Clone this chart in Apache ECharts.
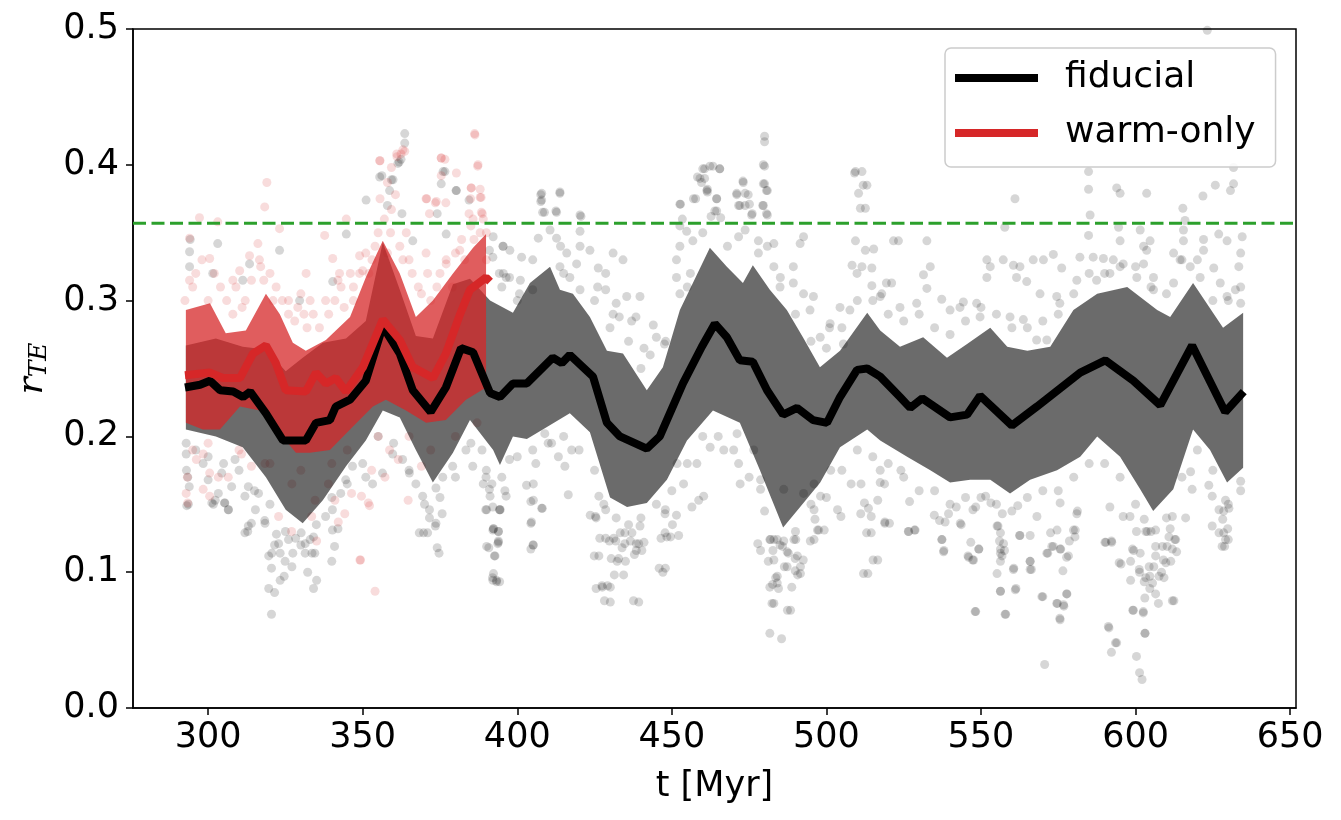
<!DOCTYPE html>
<html>
<head>
<meta charset="UTF-8">
<title>r_TE over time</title>
<script src="https://cdn.jsdelivr.net/npm/echarts@6/dist/echarts.min.js"></script>
<style>
  body { margin: 0; background: #fff; }
  #main { width: 1341px; height: 820px; }
</style>
</head>
<body>
<div id="main"></div>
<script>
// tick values
var xTicks = [300, 350, 400, 450, 500, 550, 600, 650];
var threshold = 0.357;

// running mean, fiducial run [t (Myr), r_TE]
var fidMean = [[292.5,0.236],[297.4,0.238],[300.6,0.241],[303.9,0.234],[308.1,0.233],[311.3,0.229],[313.6,0.233],[318.7,0.217],[324.2,0.197],[328.4,0.197],[331.6,0.197],[334.9,0.210],[339.4,0.212],[341.3,0.222],[345.9,0.227],[351.0,0.241],[356.5,0.281],[362.0,0.261],[366.2,0.234],[372.0,0.218],[376.9,0.236],[381.8,0.265],[385.7,0.262],[391.2,0.232],[394.4,0.229],[398.6,0.239],[403.1,0.239],[411.5,0.258],[414.4,0.254],[417.0,0.260],[424.5,0.244],[429.0,0.210],[433.2,0.200],[441.9,0.191],[446.1,0.200],[453.6,0.239],[459.7,0.266],[463.9,0.283],[467.8,0.273],[472.0,0.256],[476.2,0.255],[480.8,0.234],[486.0,0.216],[490.5,0.221],[495.7,0.212],[500.2,0.210],[504.4,0.229],[509.9,0.249],[513.2,0.250],[517.4,0.244],[523.8,0.229],[527.1,0.221],[531.0,0.228],[540.0,0.214],[545.5,0.216],[549.7,0.230],[560.0,0.208],[568.1,0.222],[582.1,0.247],[590.2,0.256],[599.3,0.241],[608.0,0.223],[618.3,0.267],[629.0,0.218],[635.0,0.233]];
// mean - std and mean + std
var fidLow = [[292.8,0.205],[302.5,0.200],[311.2,0.192],[318.7,0.170],[325.1,0.146],[330.6,0.136],[337.1,0.153],[344.6,0.178],[351.0,0.197],[356.5,0.219],[362.0,0.214],[367.2,0.190],[372.7,0.166],[379.2,0.188],[384.7,0.212],[392.2,0.190],[394.4,0.179],[398.6,0.200],[403.1,0.198],[409.6,0.207],[417.0,0.217],[423.5,0.203],[430.0,0.155],[435.5,0.148],[441.9,0.151],[448.4,0.168],[454.9,0.197],[463.3,0.219],[472.0,0.210],[478.5,0.175],[486.0,0.133],[491.5,0.148],[498.0,0.166],[504.4,0.192],[513.2,0.205],[517.4,0.197],[526.1,0.185],[533.6,0.175],[540.0,0.166],[546.5,0.168],[553.0,0.168],[559.4,0.158],[565.9,0.168],[574.6,0.175],[582.1,0.185],[587.6,0.200],[595.0,0.185],[601.5,0.161],[605.7,0.145],[612.2,0.161],[618.6,0.205],[624.1,0.190],[629.6,0.166],[634.8,0.177]];
var fidHigh = [[292.8,0.267],[302.5,0.272],[311.2,0.266],[318.7,0.264],[325.1,0.248],[330.6,0.258],[337.1,0.269],[344.6,0.272],[351.0,0.285],[356.5,0.343],[362.0,0.308],[367.2,0.274],[372.7,0.272],[379.2,0.312],[384.7,0.316],[391.2,0.300],[398.6,0.291],[404.1,0.313],[410.6,0.325],[413.8,0.308],[418.0,0.305],[423.5,0.288],[429.0,0.263],[434.2,0.261],[441.9,0.234],[447.1,0.251],[452.6,0.293],[462.3,0.339],[467.8,0.325],[473.0,0.313],[476.2,0.326],[481.7,0.308],[487.2,0.293],[492.4,0.273],[497.9,0.251],[504.4,0.263],[513.2,0.291],[517.4,0.278],[523.8,0.266],[531.3,0.273],[539.0,0.258],[545.5,0.268],[553.0,0.280],[558.5,0.266],[565.0,0.263],[572.4,0.266],[579.9,0.293],[587.6,0.305],[597.3,0.310],[607.0,0.293],[611.2,0.288],[618.6,0.313],[628.3,0.280],[634.8,0.291]];

// warm-only run
var warmMean = [[292.5,0.245],[300.6,0.247],[304.8,0.243],[310.3,0.243],[314.5,0.261],[318.7,0.267],[321.9,0.254],[325.1,0.234],[331.6,0.233],[334.9,0.247],[338.1,0.239],[341.3,0.243],[344.6,0.233],[350.1,0.251],[356.5,0.286],[362.0,0.271],[366.2,0.251],[372.7,0.243],[376.9,0.261],[381.5,0.290],[384.7,0.308],[389.9,0.317],[391.2,0.314]];
var warmLow = [[292.8,0.210],[298.3,0.205],[303.8,0.205],[310.3,0.222],[316.7,0.219],[323.2,0.202],[328.4,0.188],[332.9,0.188],[339.4,0.190],[345.9,0.205],[353.3,0.222],[357.5,0.227],[364.0,0.219],[370.5,0.210],[376.9,0.212],[383.4,0.227],[389.9,0.236]];
var warmHigh = [[292.8,0.293],[300.6,0.298],[305.7,0.276],[312.2,0.278],[318.7,0.305],[323.2,0.290],[327.4,0.269],[331.6,0.263],[338.1,0.271],[345.9,0.288],[351.0,0.317],[356.5,0.344],[362.0,0.320],[367.2,0.288],[372.7,0.300],[379.2,0.320],[385.7,0.339],[389.9,0.349]];

// individual snapshots (mostly the ones outside the bands)
var fidDots = [
[293.6,0.150],[301.7,0.150],[305.3,0.151],[306.6,0.146],[315.3,0.146],[312.8,0.130],[314,0.136],[318.3,0.138],[319.6,0.112],[321.5,0.120],[323.3,0.114],[320.5,0.103],[323.3,0.094],[324.6,0.097],[319.6,0.088],[321.5,0.085],[320.5,0.069],[322.1,0.128],[327.4,0.114],[331.4,0.114],[334.5,0.114],[332.2,0.100],[335.1,0.094],[334.1,0.088],[340,0.108],[340.9,0.119],[342,0.132],[328.3,0.125],[333,0.124],[330.1,0.129],
[369.7,0.129],[371,0.129],[373.5,0.134],[374.1,0.118],[374.7,0.114],[375.7,0.143],[371.6,0.140],[390.8,0.118],[392.6,0.112],[392,0.096],[393.3,0.093],[392.3,0.132],[393.9,0.130],[393.9,0.122],[389.8,0.146],[394.3,0.146],[404.4,0.136],[405.1,0.120],[404.4,0.117],[408.1,0.147],[404.4,0.152],
[423.6,0.142],[425.5,0.140],[426.7,0.125],[429.8,0.123],[431.9,0.123],[434.8,0.129],[436.6,0.123],[438.5,0.121],[441,0.122],[438.5,0.116],[437.9,0.113],[430.4,0.110],[432.3,0.108],[424.9,0.112],[431.4,0.098],[425.5,0.088],[427.4,0.090],[429.2,0.090],[428.2,0.079],[437.6,0.079],[445.9,0.103],[447.1,0.100],[446.5,0.125],[447.8,0.129],[449.6,0.126],[451.5,0.142],[447.8,0.143],[450.2,0.135],[439.7,0.134],[434.8,0.121],
[477.8,0.121],[478.7,0.116],[481.7,0.124],[483,0.124],[482.7,0.116],[481.2,0.108],[485.8,0.119],[487.7,0.114],[489.9,0.110],[486.4,0.104],[489.9,0.101],[490.7,0.098],[483.6,0.096],[482.6,0.091],[481.7,0.089],[484.5,0.088],[488.8,0.089],[482.4,0.077],[487.4,0.072],[481.7,0.055],[485.5,0.051],[492.5,0.109],[494.8,0.123],[497.5,0.131],[496.3,0.139],[490.1,0.124],
[512,0.099],[515.1,0.109],[513,0.129],[511.1,0.143],[513.6,0.147],[518.9,0.137],[526.6,0.130],[528.5,0.131],[534.9,0.142],[538.4,0.137],[537.4,0.124],[538,0.116],[545.8,0.112],[547.3,0.109],[546.7,0.122],[549.3,0.117],[548.3,0.071],[555.5,0.134],[556,0.123],[556.3,0.114],[556.3,0.108],[557.6,0.116],[556.3,0.086],[561.3,0.088],[558,0.069],[560.5,0.102],[562.6,0.127],[565.9,0.127],[565.9,0.108],[566.3,0.102],[570,0.082],[570.6,0.032],
[571.6,0.114],[572.9,0.119],[574.6,0.131],[575.8,0.117],[578.3,0.112],[576.5,0.101],[574.7,0.077],[576.8,0.075],[577.8,0.084],[575.5,0.066],[578.6,0.123],[580.5,0.131],
[590.4,0.122],[592.2,0.123],[591.4,0.059],[593.5,0.048],[592.2,0.041],[595.3,0.106],[598.4,0.108],[598.4,0.094],[599.4,0.116],[601.5,0.114],[601.3,0.100],[602.8,0.093],[600.3,0.130],[603.8,0.130],[602.8,0.139],[606.5,0.119],[604.6,0.097],[605.9,0.104],[608.4,0.100],[604.6,0.088],[603,0.081],[607.4,0.077],[612.4,0.079],[599.1,0.072],[602.5,0.070],[603,0.055],[600.3,0.038],[601.3,0.026],[602.1,0.021],[609.2,0.096],[609,0.109],[611.4,0.108],[613.3,0.115],[612.7,0.124],[611.2,0.132],[610.2,0.119],
[627,0.146],[628.2,0.139],[629.8,0.132],[628.8,0.119],[630,0.124],[628.5,0.129],[539.5,0.143],[543.3,0.136],[548.3,0.148],[553.2,0.151],[556.9,0.143],[561.9,0.149],[568.1,0.141],[572.5,0.129],[581.2,0.145],
[363.6,0.423],[363.6,0.416],[362.4,0.404],[361.8,0.402],[359.3,0.389],[356.2,0.392],[358,0.370],[362.7,0.364],[376.6,0.395],[375.4,0.386],[380.3,0.381],[374.1,0.364],[407.6,0.378],[407.6,0.373],[413.8,0.380],[408.8,0.365],[412.5,0.366],[420.6,0.362],
[452.8,0.371],[453.4,0.360],[457.7,0.375],[458.3,0.391],[459.6,0.387],[460.6,0.390],[461.5,0.382],[461.5,0.380],[460.6,0.397],[463.3,0.399],[465.5,0.397],[464.5,0.375],[462.7,0.362],[463.9,0.366],[465.8,0.361],[473,0.388],[471,0.378],[472,0.370],[474.7,0.378],[475.1,0.371],[476,0.364],[480,0.421],[480,0.417],[480,0.399],[480,0.386],[480.9,0.381],[479.4,0.370],[480.6,0.364],[509.1,0.394],[509.4,0.395],[511.9,0.385],[511,0.368],
[294.2,0.345],[303.1,0.342],[294,0.336],[294,0.325],[301.5,0.320],[311.2,0.315],[313.4,0.327],[323.1,0.337],[329.6,0.300],[340.3,0.314],[344.7,0.349],[351.1,0.374],[355.5,0.391],[359.8,0.389],[361.4,0.401],[358.7,0.381],[366.2,0.344],[376,0.395],[380.2,0.381],[377,0.349],[384.4,0.374],[392.1,0.332],[395.4,0.340],[396.4,0.317],
[407.9,0.379],[407.9,0.374],[413.8,0.379],[408.2,0.365],[412.7,0.365],[420.3,0.363],[406.8,0.346],[410.6,0.352],[412.7,0.346],[392.2,0.347],[395.4,0.340],[397.6,0.337],[401.4,0.332],[420.3,0.351],[420.3,0.340],[423.5,0.337],[414,0.340],[419.2,0.327],[431,0.335],[434.2,0.330],[426.2,0.324],[428.6,0.320],[435.4,0.303],[439.7,0.303],[433,0.288],[438.4,0.288],[432,0.298],[428.6,0.308],[444,0.282],[445,0.273],[447.6,0.268],
[452.6,0.371],[457,0.375],[459.1,0.390],[462.3,0.399],[465.5,0.397],[460,0.397],[461.3,0.381],[464.5,0.375],[464.5,0.366],[471,0.379],[473.1,0.387],[473.7,0.379],[479.6,0.400],[479.6,0.386],[480.6,0.381],[479.6,0.370],[480.9,0.363],[471.6,0.370],[473.7,0.370],[475.8,0.363],[452.6,0.355],[454.8,0.351],[456.8,0.344],[452.6,0.340],[451.5,0.330],[451.5,0.317],[452.6,0.305],
[471.6,0.347],[473.7,0.352],[478,0.344],[480.9,0.340],[483,0.342],[483,0.325],[485.1,0.317],[489.3,0.325],[491.5,0.342],[492.6,0.347],[489.3,0.313],[492.6,0.305],[494.7,0.293],[495.8,0.303],[501.2,0.283],[498,0.273],[505.5,0.268],[510.4,0.379],[511.5,0.395],[513.1,0.385],[512.6,0.368],[509.4,0.344],[512.6,0.337],[515.3,0.338],[508.3,0.326],[511.5,0.325],[514.7,0.324],[509.9,0.320],[514.7,0.311],[517.9,0.305],[521.1,0.313],[523.3,0.344],[504.4,0.295],[507.6,0.293],
[391,0.337],[394.2,0.320],[397.5,0.317],[400.7,0.305],[405,0.308],[413.8,0.325],[417,0.317],[420.3,0.308],
[584.8,0.395],[584.8,0.382],[593.9,0.383],[595,0.379],[603.6,0.379],[621.8,0.377],[625.8,0.385],[631.7,0.386],[630.7,0.381],[631.7,0.398],[615.3,0.368],[585.3,0.363],[561,0.375],[557.7,0.354],[584.8,0.348],[594.5,0.354],[595,0.344],[601.5,0.352],[602.6,0.340],[603.6,0.337],[604.7,0.344],[615.5,0.352],[616,0.359],[615.5,0.344],[622,0.345],[626.9,0.349],[629.6,0.344],[634.5,0.347],[634,0.335],[622,0.337],[625.3,0.324],[633.4,0.325],[612.3,0.335],[614.4,0.330],[617.7,0.325],[620.9,0.317],[627.4,0.313],[632.3,0.308],[629.6,0.303],[634,0.298],[623.2,0.499],
[521.7,0.344],[532.5,0.344],[533.6,0.325],[531.4,0.319],[532.5,0.309],[519.4,0.313],[537.3,0.301],[540,0.293],[544.3,0.299],[551.9,0.330],[553,0.325],[551.9,0.317],[557.2,0.330],[560.5,0.326],[562.6,0.325],[561.5,0.317],[564.8,0.314],[566.9,0.330],[570.2,0.330],[573.4,0.334],[576.1,0.324],[569.1,0.305],[574.5,0.303],[575.5,0.298],[582,0.332],[586.3,0.332],[589.6,0.331],[592.8,0.330],[581,0.315],[587.4,0.315],[591.7,0.320],[596,0.327],[600.4,0.317],[605.8,0.317],[602.6,0.327],[605.8,0.308],[612.3,0.313],[543.2,0.295],[548.6,0.298],[549.7,0.288],[559.4,0.288],[563.7,0.286],[568,0.271],[571.3,0.271],[529.2,0.298],[523.8,0.295],[517.4,0.303],
[518.9,0.136],[526.5,0.130],[528.7,0.131],[537.3,0.124],[537.9,0.115],[546,0.111],[547.6,0.109],[549.3,0.117],[555.2,0.134],[556.3,0.129],[557.3,0.121],[556.8,0.112],[555.2,0.099],[556.3,0.117],[560.6,0.103],[556.3,0.086],[561.1,0.087],[548.1,0.071],[557.8,0.069],[565.9,0.108],[565.9,0.102],[569.7,0.082],[574.5,0.077],[576.7,0.076],[575.6,0.065],[577.7,0.084],[571.3,0.114],[573.4,0.119],[575.6,0.117],[577.7,0.111],[579.9,0.131],[581,0.143],[580.4,0.126],[575.6,0.151],[590.1,0.122],[592.3,0.122],[591.2,0.060],[593.9,0.048],[603.1,0.055],[599.3,0.072],[602.5,0.071],[594.7,0.107],[599,0.117],[601.2,0.102],[603.3,0.096],[605.5,0.092],[607.6,0.097],[606.5,0.084],[611.9,0.079],[604.4,0.104],[606.5,0.112],[608.7,0.119],[611.9,0.117],[609.8,0.107],[603.3,0.130],[606.5,0.131],[610.8,0.126],[613,0.124],[611.9,0.141],[616.2,0.140],[598.2,0.141],[596,0.141],[591.7,0.148],[624.8,0.134],[627,0.129],[628,0.119],[629.1,0.124],[628.5,0.145],[630.2,0.147],[629.1,0.153],[634,0.167],[623.7,0.164],[618.3,0.161],[617.8,0.174],[624.8,0.156],
[526.9,0.152],[536.6,0.138],[543.6,0.135],[547.4,0.146],[562.5,0.127],[542,0.148],[551.5,0.156],[517.4,0.166],[517.4,0.175],
[390.1,0.146],[392.3,0.132],[393.9,0.130],[394.5,0.146],[391.2,0.156],[391.8,0.165],[390.1,0.119],[393.9,0.123],[392.8,0.112],[392.3,0.099],[393.3,0.094],[403,0.164],[405.2,0.165],[405.2,0.153],[404.6,0.137],[405.2,0.120],[407.9,0.147],[416.5,0.157],[411.1,0.195],[413.3,0.185],[415.4,0.178],[417.6,0.190],[408.9,0.202],
[426.4,0.112],[428.6,0.125],[431.2,0.125],[433.9,0.118],[432.8,0.110],[435,0.108],[434.4,0.098],[427.5,0.089],[430.1,0.089],[430.1,0.078],[439.3,0.078],[433.3,0.129],[437.1,0.129],[439.3,0.121],[440.3,0.116],[447.9,0.103],[448.4,0.126],[452.2,0.127],[425.3,0.141],[426.4,0.156],[428.6,0.146],[447.9,0.146],[456.5,0.148],[458.7,0.153],[460.3,0.156],[453.8,0.165],[458.1,0.180],[451.7,0.180],[462.4,0.192],[466.8,0.190],[471.1,0.202],[472.1,0.165],[471.6,0.180],[476.5,0.190],[478.7,0.168],
[478.7,0.161],[481.9,0.124],[484.1,0.124],[486.2,0.123],[483,0.109],[487.3,0.115],[489.5,0.124],[487.3,0.104],[490.6,0.112],[491.6,0.104],[491.6,0.099],[484.1,0.097],[484.1,0.092],[483,0.077],[488.4,0.072],[496,0.124],[499.3,0.131],[503.6,0.146],[504.7,0.141],[508,0.165],[511.2,0.165],[512.3,0.151],[514.5,0.141],[516.6,0.153],[520.4,0.136],[518.8,0.165],[514.5,0.129],[513.4,0.099],[516.6,0.109],[524.1,0.175],[492.6,0.158],[496,0.146],[498.1,0.156],[496,0.165],[497.1,0.131],[486.2,0.161],[501.4,0.175],[389,0.165],[388.6,0.190],
[292.9,0.195],[292.9,0.187],[293,0.175],[293.4,0.170],[293.9,0.163],[293.1,0.149],[298.4,0.180],[300,0.168],[304.4,0.173],[303.3,0.158],[305.4,0.151],[302.3,0.153],[301.2,0.151],[306.5,0.146],[307.6,0.163],[308.7,0.183],[313,0.163],[311.9,0.156],[318.4,0.136],[313,0.134],[311.9,0.129],[316.3,0.158],[320.6,0.114],[322.8,0.121],[326,0.124],[324.9,0.108],[327.1,0.104],[331.4,0.121],[333.6,0.114],[334.1,0.126],[340.2,0.131],[338,0.141],[340.2,0.146],[342.9,0.158],[344.5,0.168],[346.7,0.178],[351,0.170],[353.2,0.165],[356.4,0.173],[359.7,0.187],[362.9,0.183],[365.1,0.173],[367.2,0.165],[369.4,0.156],[371.6,0.146],[373.7,0.136],[368.3,0.129],[373.7,0.162],[375.9,0.170],[379.1,0.178],[383.4,0.190],[385.6,0.178],[389.9,0.170],[391,0.161],[392.1,0.148],[394.3,0.146],[392.1,0.131],[393.7,0.121],[392.1,0.094],[394.3,0.093],[396.4,0.156],[397.5,0.183],
// points crowding just outside the fiducial band
[395,0.310],[395.5,0.320],[400,0.300],[401,0.315],[405,0.330],[415,0.320],[416,0.335],[425,0.300],[426,0.310],[430,0.280],[431,0.290],[436,0.270],[437,0.285],[440,0.250],[441,0.265],[443,0.260],[448,0.270],[455,0.310],[456,0.320],[460,0.350],[468,0.340],[478,0.335],[485,0.310],[490,0.290],[495,0.270],[500,0.265],[501,0.280],[505,0.280],[510,0.300],[515,0.300],[520,0.290],[525,0.285],[530,0.290],[535,0.280],[540,0.275],[545,0.285],[550,0.295],[555,0.290],[560,0.280],[565,0.280],[570,0.285],[575,0.290],[580,0.305],[585,0.320],[590,0.320],[595,0.325],[600,0.325],[605,0.310],[610,0.305],[615,0.330],[620,0.330],[625,0.300],[630,0.300],[634,0.310],
[395,0.170],[396,0.160],[400,0.185],[405,0.190],[406,0.180],[410,0.195],[415,0.200],[420,0.190],[425,0.175],[428,0.150],[432,0.140],[436,0.135],[440,0.140],[445,0.150],[450,0.160],[455,0.180],[460,0.200],[465,0.200],[470,0.190],[475,0.170],[480,0.145],[485,0.120],[490,0.130],[495,0.150],[500,0.155],[505,0.175],[510,0.190],[515,0.185],[520,0.180],[525,0.170],[530,0.160],[535,0.160],[540,0.150],[545,0.155],[550,0.155],[555,0.150],[560,0.145],[565,0.155],[570,0.160],[575,0.160],[580,0.170],[585,0.180],[590,0.180],[595,0.170],[600,0.150],[605,0.130],[610,0.140],[615,0.170],[620,0.190],[625,0.175],[630,0.150],[634,0.160],
[296,0.190],[300,0.185],[305,0.180],[310,0.175],[315,0.160],[320,0.150],[325,0.130],[330,0.120],[335,0.135],[340,0.155],[345,0.165],[350,0.180],[355,0.200],[360,0.195],[365,0.175],[370,0.150],[375,0.155],[380,0.170],[385,0.195],[390,0.175]
];

var warmDots = [
[349.3,0.109],[354,0.086],[352.2,0.149],[342.1,0.137],[327,0.130],[335.1,0.123],
[355.6,0.403],[358,0.387],[359.3,0.398],[361.1,0.406],[362.4,0.408],[363.6,0.410],[360.6,0.378],[359.3,0.367],[355.6,0.375],[375.4,0.405],[376.6,0.404],[375.4,0.392],[380.3,0.394],[386.3,0.422],[387.2,0.399],[385.1,0.383],[388,0.382],[388,0.376],[384.9,0.375],[370.7,0.375],[373.5,0.372],[376.9,0.372],[371.6,0.364],[388.4,0.365],[388.7,0.364],[385.7,0.360],[384.4,0.364],
[319,0.387],[318.3,0.369],[297.2,0.361],[303.1,0.358],[294,0.346],[316.1,0.342],[323.1,0.353],[337.7,0.348],[344.7,0.360],[355.5,0.403],[361,0.408],[363,0.411],[370.5,0.375],[373.8,0.373],[375.4,0.405],[386.2,0.423],[387.3,0.400],[388.3,0.376],[385.1,0.383],[308,0.315],[310.2,0.322],[313.4,0.333],[316.6,0.330],[300.5,0.331],[331.7,0.320],[340.3,0.331],[342.5,0.320],[349,0.333],[364.1,0.350],[370.5,0.335],[377,0.327],[381.4,0.337],[350,0.322],
[322,0.310],[326,0.300],[330,0.305],[334,0.290],[338,0.300],[343,0.310],[347,0.300],[328,0.285],[332,0.280],[318,0.315],[312,0.300],[308,0.290],[304,0.310],[296,0.320],[300,0.300],[292.5,0.300],[294,0.315],[352,0.320],[358,0.335],[365,0.330],[368,0.310],[372,0.300],[375,0.320],[379,0.310],[383,0.330],[386,0.345],[390,0.350],[389,0.360],[390,0.330],
[295,0.310],[298,0.330],[302,0.320],[306,0.300],[309,0.310],[311,0.295],[314,0.315],[317,0.325],[320,0.320],[321,0.300],[324,0.300],[326,0.290],[329,0.295],[331,0.290],[333,0.300],[336,0.280],[339,0.290],[341,0.300],[344,0.295],[347,0.310],[349,0.320],[353,0.330],[355,0.350],[359,0.350],[362,0.340],[366,0.320],[369,0.305],[371,0.320],[374,0.310],[377,0.330],[380,0.335],[382,0.345],[385,0.355],[388,0.350],[363,0.330],[357,0.360],[354,0.340],[351,0.335],[346,0.320],[342,0.315],
[293.3,0.170],[292.9,0.158],[293.4,0.151],[296.2,0.183],[298.4,0.187],[300.5,0.173],[303.3,0.170],[306.5,0.170],[298.4,0.161],[300.5,0.156],[310.8,0.187],[314,0.178],[318.4,0.180],[322.8,0.141],[327.1,0.165],[334.6,0.153],[338.9,0.165],[341,0.153],[344.2,0.143],[346.4,0.158],[349.6,0.156],[351.8,0.151],[352.9,0.175],[357.2,0.170],[361.5,0.183],[364.7,0.153],[369,0.178],[358.7,0.190],[349.1,0.109],[333.5,0.141],
[320,0.180],[330,0.175],[340,0.180],[345,0.190],[355,0.200],[365,0.200],[372,0.190],[380,0.200],[387,0.210],[310,0.190],[300,0.195],[295,0.190]
];

function bandSeries(lower, upper, fill, z) {
  var pts = lower.concat(upper.slice().reverse());
  return {
    type: 'custom',
    coordinateSystem: 'cartesian2d',
    silent: true,
    clip: true,
    z: z,
    data: [pts[0]],
    renderItem: function (params, api) {
      var poly = pts.map(function (d) { return api.coord(d); });
      return { type: 'polygon', shape: { points: poly }, style: { fill: fill } };
    }
  };
}

var font = 'DejaVu Sans';
var chart = echarts.init(document.getElementById('main'));
chart.setOption({
  animation: false,
  backgroundColor: '#fff',
  grid: { left: 133, right: 45, top: 29, bottom: 112, show: true, borderColor: '#000', borderWidth: 1.5, backgroundColor: 'transparent' },
  legend: {
    left: 945, top: 48,
    orient: 'vertical',
    data: [{ name: 'fiducial', icon: 'rect' }, { name: 'warm-only', icon: 'rect' }],
    itemWidth: 83, itemHeight: 8, itemGap: 15,
    padding: [10, 20, 14, 10],
    backgroundColor: 'rgba(255,255,255,0.85)',
    borderColor: '#cccccc', borderWidth: 1.5, borderRadius: 6,
    textStyle: { fontFamily: font, fontSize: 36, color: '#000', lineHeight: 40, padding: [0, 0, 0, 22] }
  },
  xAxis: {
    type: 'value', min: 275.7, max: 651.9,
    name: 't [Myr]', nameLocation: 'middle', nameGap: 61,
    nameTextStyle: { fontFamily: font, fontSize: 35, color: '#000' },
    axisLine: { lineStyle: { color: '#000', width: 1.5 } },
    axisTick: { show: true, inside: false, length: 7, lineStyle: { color: '#000', width: 1.5 }, customValues: xTicks },
    axisLabel: { fontFamily: font, fontSize: 35, color: '#000', margin: 12, customValues: xTicks },
    splitLine: { show: false }
  },
  yAxis: {
    type: 'value', min: 0, max: 0.5, interval: 0.1,
    name: '{r|r}{s|TE}', nameLocation: 'middle', nameGap: 76, nameRotate: 90,
    nameTextStyle: {
      rich: {
        r: { fontFamily: 'DejaVu Serif', fontStyle: 'italic', fontSize: 36, color: '#000' },
        s: { fontFamily: 'DejaVu Serif', fontStyle: 'italic', fontSize: 25, color: '#000', padding: [14, 0, 0, 0] }
      }
    },
    axisLine: { lineStyle: { color: '#000', width: 1.5 } },
    axisTick: { show: true, inside: false, length: 7, lineStyle: { color: '#000', width: 1.5 } },
    axisLabel: { fontFamily: font, fontSize: 35, color: '#000', margin: 14, formatter: function (v) { return v.toFixed(1); } },
    splitLine: { show: false }
  },
  series: [
    { type: 'scatter', data: fidDots, symbolSize: 9, silent: true, z: 1, itemStyle: { color: 'rgba(0,0,0,0.2)' } },
    { type: 'scatter', data: warmDots, symbolSize: 9, silent: true, z: 2, itemStyle: { color: 'rgba(214,39,40,0.2)' } },
    bandSeries(fidLow, fidHigh, 'rgba(0,0,0,0.58)', 3),
    bandSeries(warmLow, warmHigh, 'rgba(214,39,40,0.75)', 4),
    { name: 'fiducial', type: 'line', data: fidMean, symbol: 'none', z: 5, itemStyle: { color: '#000' }, lineStyle: { color: '#000', width: 8 } },
    { name: 'warm-only', type: 'line', data: warmMean, symbol: 'none', z: 6, itemStyle: { color: '#d62728' }, lineStyle: { color: '#d62728', width: 8 } },
    { type: 'line', data: [[275.7, threshold], [651.9, threshold]], symbol: 'none', silent: true, z: 7, lineStyle: { color: '#2ca02c', width: 3, type: [13, 5.5] } }
  ]
});
</script>
</body>
</html>
